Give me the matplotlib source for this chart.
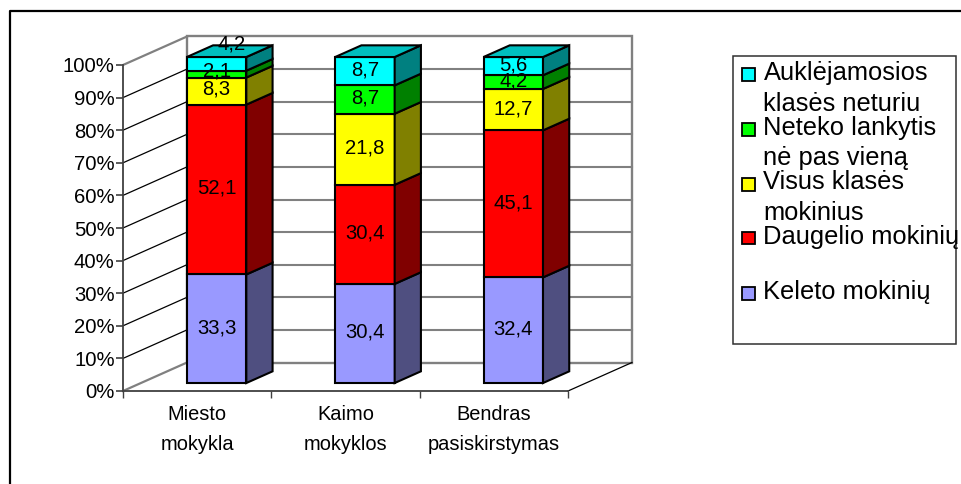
import matplotlib
matplotlib.use("Agg")
import matplotlib.pyplot as plt
from matplotlib.lines import Line2D
from matplotlib.patches import Polygon, Rectangle

W, H = 962, 484
DPI = 100
plt.rcParams['font.family'] = ['Liberation Sans', 'DejaVu Sans']

categories = ["Miesto\nmokykla", "Kaimo\nmokyklos", "Bendras\npasiskirstymas"]
keleto = [33.3, 30.4, 32.4]
daugelio = [52.1, 30.4, 45.1]
visus = [8.3, 21.8, 12.7]
neteko = [2.1, 8.7, 4.2]
auklejamosios = [4.2, 8.7, 5.6]
series = [keleto, daugelio, visus, neteko, auklejamosios]
series_labels = ["Keleto mokinių", "Daugelio mokinių", "Visus klasės\nmokinius",
                 "Neteko lankytis\nnė pas vieną", "Auklėjamosios\nklasės neturiu"]
front_colors = ["#9999FF", "#FF0000", "#FFFF00", "#00FF00", "#00FFFF"]
side_colors = ["#4F4F80", "#800000", "#808000", "#008000", "#008080"]
top_color = "#00BFBF"
y_ticks = [0, 10, 20, 30, 40, 50, 60, 70, 80, 90, 100]

fig = plt.figure(figsize=(W / DPI, H / DPI), dpi=DPI, facecolor="white")


def fx(px):
    return px / W


def fy(py):
    return 1 - py / H


# outer frame: only left and top edges are visible
fig.add_artist(Line2D([fx(10), fx(10), fx(962)], [fy(484), fy(11), fy(11)],
                      transform=fig.transFigure, color="black", lw=1.6))

X0, X1, Y0, Y1 = 123, 568, 391, 65
ax = fig.add_axes([fx(X0), fy(Y0), (X1 - X0) / W, (Y0 - Y1) / H])
ax.set_xlim(0, 3)
ax.set_ylim(0, 100)
ax.patch.set_alpha(0)

unit_x = (X1 - X0) / 3
unit_y = (Y0 - Y1) / 100
DX, DY = 64 / unit_x, 28.5 / unit_y  # wall depth
bar_start = 0.28  # fraction of depth where the bar front sits
bar_end = 0.69
bar_w = 59.5 / unit_x
bar_shift = 1.5 / unit_x
wall = "#808080"

# walls
ax.add_patch(Polygon([(DX, DY), (3 + DX, DY), (3 + DX, 100 + DY), (DX, 100 + DY)], closed=True,
                     fc="white", ec=wall, lw=1.7, clip_on=False, zorder=1))
ax.plot([3, 3 + DX], [0, DY], color="black", lw=0.9, clip_on=False, zorder=1.5)
ax.plot([0, DX], [0, DY], color=wall, lw=1.6, clip_on=False, zorder=1.5)
for t in y_ticks[1:-1]:
    ax.plot([0, DX], [t, t + DY], color="black", lw=0.9, clip_on=False, zorder=1.5)
    ax.plot([DX, 3 + DX], [t + DY, t + DY], color=wall, lw=1.5, clip_on=False, zorder=1.6)
ax.plot([0, DX], [100, 100 + DY], color=wall, lw=1.6, clip_on=False, zorder=1.6)

# manual label displacements, in points, for (bar, series) pairs that Excel moved
label_nudge = {(0, 4): (11, 14.5), (0, 3): (0, 2.2), (0, 2): (0, 1.2)}

# stacked 3D bars
for i, cat in enumerate(categories):
    sx, sy = DX * bar_start, DY * bar_start
    ex, ey = DX * (bar_end - bar_start), DY * (bar_end - bar_start)
    left = i + 0.5 - bar_w / 2 + sx + bar_shift
    right = left + bar_w
    base = 0
    for j, (values, fc, sc) in enumerate(zip(series, front_colors, side_colors)):
        v = values[i]
        b, t = base + sy, base + v + sy
        ax.add_patch(Polygon([(left, b), (right, b), (right, t), (left, t)], closed=True,
                             fc=fc, ec="black", lw=1.5, clip_on=False, zorder=3))
        ax.add_patch(Polygon([(right, b), (right + ex, b + ey), (right + ex, t + ey), (right, t)],
                             closed=True, fc=sc, ec="black", lw=1.5, clip_on=False, zorder=3))
        ax.annotate(f"{v:.1f}".replace(".", ","), ((left + right) / 2, (b + t) / 2),
                    xytext=label_nudge.get((i, j), (0, 0.8)), textcoords="offset points",
                    ha="center", va="center", fontsize=14.6, color="black",
                    annotation_clip=False, zorder=5)
        base += v
    t = base + sy
    ax.add_patch(Polygon([(left, t), (right, t), (right + ex, t + ey), (left + ex, t + ey)],
                         closed=True, fc=top_color, ec="black", lw=1.5, clip_on=False, zorder=3))

# axes
for s in ("top", "right"):
    ax.spines[s].set_visible(False)
for s in ("left", "bottom"):
    ax.spines[s].set_color("#404040")
    ax.spines[s].set_linewidth(1.3)
    ax.spines[s].set_zorder(2)
ax.set_yticks(y_ticks)
ax.set_yticklabels([f"{t}%" for t in y_ticks], fontsize=14.6)
ax.tick_params(axis="y", length=5, width=1.2, color="#404040", pad=1)
ax.set_xticks([0, 1, 2, 3])
ax.set_xticklabels([])
ax.tick_params(axis="x", which="major", length=5, width=1.0, color="#404040")
ax.set_xticks([0.5, 1.5, 2.5], minor=True)
ax.set_xticklabels(categories, minor=True, fontsize=14.4, linespacing=1.75)
ax.tick_params(axis="x", which="minor", length=0, pad=10)

# legend box
fig.add_artist(Rectangle((fx(733.5), fy(344)), fx(956) - fx(733.5), fy(56) - fy(344),
                         transform=fig.transFigure, fc="white", ec="#303030", lw=1.1))
text_y = {4: (73, 104), 3: (128, 158), 2: (182, 213), 1: (237,), 0: (292,)}
swatch_y = {4: 74, 3: 129, 2: 184, 1: 238, 0: 293}
for idx in range(5):
    y = swatch_y[idx]
    fig.add_artist(Rectangle((fx(742), fy(y + 6.5)), 13 / W, 13 / H, transform=fig.transFigure,
                             fc=front_colors[idx], ec="black", lw=1.3))
    lines = series_labels[idx].split("\n")
    for line, ly in zip(lines, text_y[idx]):
        fig.text(fx(763.5), fy(ly), line, ha="left", va="center", fontsize=18.4, color="black")

fig.savefig("out.png", dpi=DPI)
